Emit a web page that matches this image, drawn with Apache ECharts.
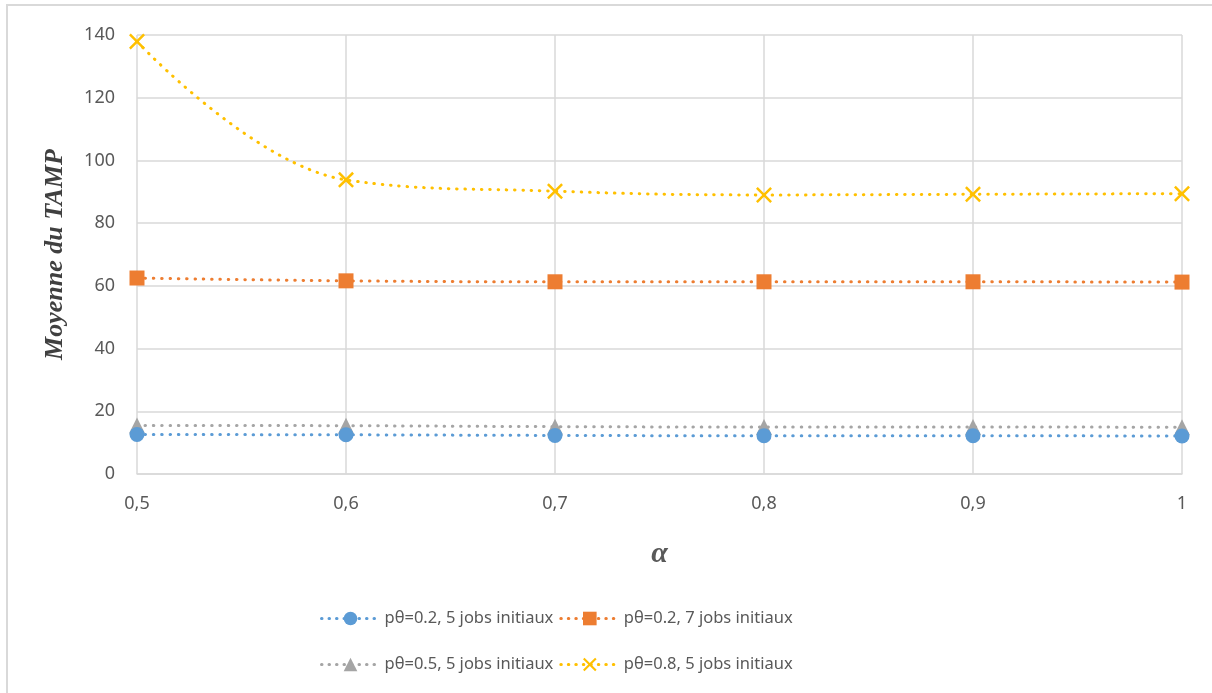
<!DOCTYPE html>
<html>
<head>
<meta charset="utf-8">
<script src="https://cdn.jsdelivr.net/npm/echarts@6/dist/echarts.min.js"></script>
<style>
html,body{margin:0;padding:0;background:#fff;}
#frame{position:absolute;left:6px;top:4px;width:1220px;height:700px;border-left:2px solid #d9d9d9;border-top:2px solid #d9d9d9;}
#c{position:absolute;left:0;top:0;width:1212px;height:693px;}
</style>
</head>
<body>
<div id="frame"></div>
<div id="c"></div>
<script>
const categories = ['0,5','0,6','0,7','0,8','0,9','1'];
const yTicks = [0,20,40,60,80,100,120,140];
const names = ['pθ=0.2, 5 jobs initiaux','pθ=0.2, 7 jobs initiaux','pθ=0.5, 5 jobs initiaux','pθ=0.8, 5 jobs initiaux'];
const s1 = [12.6, 12.5, 12.3, 12.2, 12.2, 12.1];
const s2 = [62.5, 61.6, 61.3, 61.3, 61.3, 61.2];
const s3 = [15.5, 15.4, 15.1, 15.0, 15.0, 14.9];
const s4 = [137.9, 93.8, 90.2, 89.0, 89.2, 89.4];
const colors = ['#5B9BD5','#ED7D31','#A5A5A5','#FFC000'];
const symbols = ['circle','rect','triangle','path://M0,1.1L1.1,0L5,3.9L8.9,0L10,1.1L6.1,5L10,8.9L8.9,10L5,6.1L1.1,10L0,8.9L3.9,5Z'];
const sizes = [15,15,16,16];
const data = [s1,s2,s3,s4];

const chart = echarts.init(document.getElementById('c'), null, {renderer:'canvas'});
const series = data.map((d,i)=>({
  name: names[i],
  type: 'line',
  data: d,
  smooth: 0.4,
  symbol: symbols[i],
  symbolSize: sizes[i],
  showSymbol: true,
  z: 10-i,
  lineStyle: {color: colors[i], width: 3, type: [0.5,7.8], cap:'round'},
  itemStyle: {color: colors[i]}
}));
const baseFont = 'Noto Sans, Open Sans, sans-serif';
const legendText = {color:'#595959', fontSize:16.5, fontFamily:baseFont};
const legendLine = {width:3, type:[0.5,7], cap:'round'};
chart.setOption({
  animation: false,
  backgroundColor: 'transparent',
  grid: {left:137, right:30, top:35, bottom:219},
  xAxis: {
    type:'category', data: categories, boundaryGap:false,
    axisLine:{show:true, lineStyle:{color:'#d9d9d9', width:1.5}},
    axisTick:{show:false},
    splitLine:{show:true, lineStyle:{color:'#d9d9d9', width:1.5}},
    axisLabel:{color:'#595959', fontSize:18, margin:21, fontFamily:baseFont},
    name:'α', nameLocation:'middle', nameGap:65,
    nameTextStyle:{fontSize:30, fontStyle:'italic', fontWeight:'bold', fontFamily:'Liberation Serif, DejaVu Serif, serif', color:'#595959'}
  },
  yAxis: {
    type:'value', min:0, max:140, interval:20,
    axisLine:{show:false}, axisTick:{show:false},
    splitLine:{show:true, lineStyle:{color:'#d9d9d9', width:1.5}},
    axisLabel:{color:'#595959', fontSize:18, margin:22, fontFamily:baseFont,
      formatter: v => yTicks.includes(v) ? String(v) : ''},
    name:'Moyenne du TAMP', nameLocation:'middle', nameGap:69,
    nameTextStyle:{fontSize:26, fontStyle:'italic', fontWeight:'bold', fontFamily:'Liberation Serif, DejaVu Serif, serif', color:'#404040'}
  },
  legend: [
    {data:[names[0],names[1]], left:315, top:605, itemWidth:58, itemHeight:17, itemGap:6, textStyle:legendText, lineStyle:legendLine},
    {data:[names[2],names[3]], left:315, top:651, itemWidth:58, itemHeight:17, itemGap:6, textStyle:legendText, lineStyle:legendLine}
  ],
  series: series
});
</script>
</body>
</html>
